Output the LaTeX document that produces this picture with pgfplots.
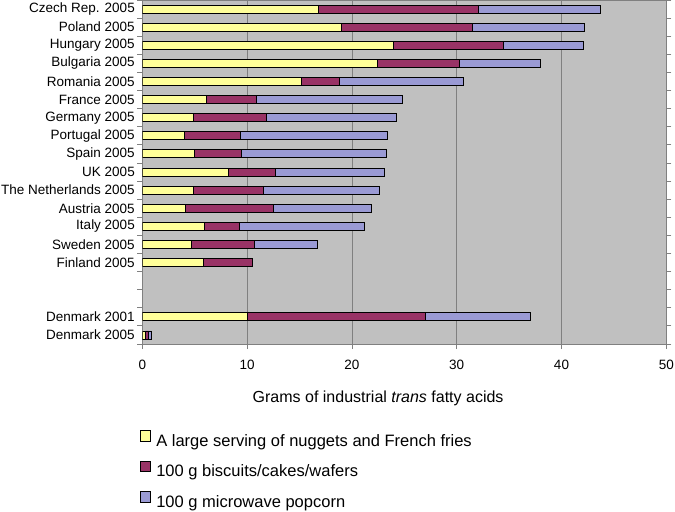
\documentclass[border=0pt]{standalone}
\usepackage{fontspec}
\setmainfont{Liberation Sans}
\usepackage{pgfplots}
\pgfplotsset{compat=1.18}
\definecolor{fries}{HTML}{FFFF99}
\definecolor{biscuit}{HTML}{993366}
\definecolor{popcorn}{HTML}{9A9AD4}
\definecolor{plotbg}{HTML}{C0C0C0}
\definecolor{gridgray}{HTML}{808080}

\begin{document}
\begin{tikzpicture}
\useasboundingbox (0,0) rectangle (675bp,512bp);
\begin{axis}[
  at={(142.3bp,168bp)}, anchor=south west,
  width=524bp, height=344bp, scale only axis,
  xbar stacked, bar width=8bp,
  xmin=0, xmax=50, xtick={0,10,...,50},
  ymin=-0.5, ymax=18.5, y dir=reverse,
  ytick={-0.5,0.5,...,18.5}, yticklabels={},
  extra y ticks={0,1,2,3,4,5,6,7,8,9,10,11,12,13,14,17,18},
  extra y tick labels={Czech Rep. 2005,Poland 2005,Hungary 2005,Bulgaria 2005,Romania 2005,France 2005,Germany 2005,Portugal 2005,Spain 2005,UK 2005,The Netherlands 2005,Austria 2005,Italy 2005,Sweden 2005,Finland 2005,Denmark 2001,Denmark 2005},
  extra y tick style={major tick length=0pt},
  tick align=outside, major tick length=5bp,
  axis background/.style={fill=plotbg},
  axis line style={gridgray, line width=1bp},
  tick style={gridgray, line width=0.8bp},
  xmajorgrids, major grid style={gridgray, line width=0.8bp},
  ticklabel style={font=\fontsize{13.5bp}{16bp}\selectfont},
  yticklabel style={xshift=-4bp},
  xticklabel style={yshift=-8bp},
  /pgf/number format/assume math mode=true,
  xlabel={Grams of industrial \textit{trans} fatty acids},
  xlabel style={at={(axis description cs:0.45,-0.157)}, anchor=center, font=\fontsize{16bp}{19bp}\selectfont},
  legend style={at={(axis description cs:-0.0044,-0.250)}, anchor=north west, draw=none, fill=none,
    inner sep=0pt, outer sep=0pt, row sep=13bp,
    font=\fontsize{16.5bp}{19bp}\selectfont, nodes={inner sep=0pt},
    /tikz/every odd column/.append style={column sep=5bp}},
  legend cell align=left,
  legend image code/.code={\draw[#1, draw=black, line width=0.8bp] (0bp,0bp) rectangle (10.5bp,10.5bp);},
]
\addplot[fill=fries, draw=black, line width=0.8bp] coordinates {
  (16.8,0) (19.0,1) (24.0,2) (22.4,3) (15.2,4) (6.1,5) (4.9,6) (4.0,7) (5.0,8)
  (8.2,9) (4.9,10) (4.1,11) (5.9,12) (4.7,13) (5.8,14) (10.0,17) (0.3,18)};
\addplot[fill=biscuit, draw=black, line width=0.8bp] coordinates {
  (15.3,0) (12.5,1) (10.5,2) (7.9,3) (3.6,4) (4.8,5) (6.9,6) (5.4,7) (4.5,8)
  (4.5,9) (6.7,10) (8.4,11) (3.4,12) (6.0,13) (4.7,14) (17.0,17) (0.3,18)};
\addplot[fill=popcorn, draw=black, line width=0.8bp] coordinates {
  (11.6,0) (10.7,1) (7.6,2) (7.7,3) (11.8,4) (13.9,5) (12.4,6) (14.0,7) (13.8,8)
  (10.4,9) (11.0,10) (9.4,11) (11.9,12) (6.0,13) (0,14) (10.0,17) (0.3,18)};
\legend{A large serving of nuggets and French fries,100 g biscuits/cakes/wafers,100 g microwave popcorn}
\end{axis}
\end{tikzpicture}
\end{document}
